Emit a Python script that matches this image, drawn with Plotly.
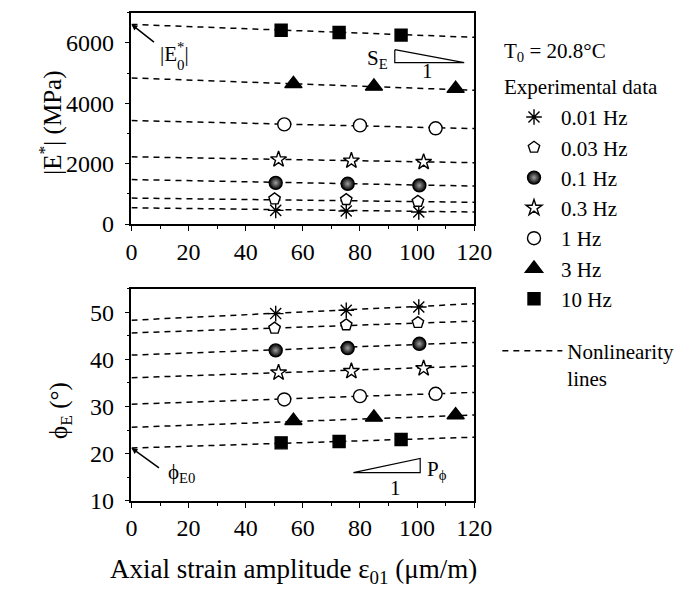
import plotly.graph_objects as go

# ---------------- data ----------------
freqs = ["0.01 Hz", "0.03 Hz", "0.1 Hz", "0.3 Hz", "1 Hz", "3 Hz", "10 Hz"]

strain = [
    [50.5, 75.2, 100.6],
    [50.1, 75.2, 100.3],
    [50.5, 75.7, 100.8],
    [51.5, 77.0, 102.3],
    [53.5, 80.0, 106.5],
    [56.7, 84.9, 113.5],
    [52.4, 72.7, 94.4],
]
modulus = [
    [452, 430, 398],
    [830, 806, 752],
    [1365, 1333, 1280],
    [2140, 2097, 2054],
    [3300, 3268, 3171],
    [4645, 4560, 4484],
    [6420, 6345, 6258],
]
phase = [
    [49.7, 50.4, 51.1],
    [46.6, 47.3, 47.8],
    [41.9, 42.4, 43.3],
    [37.2, 37.5, 38.1],
    [31.5, 32.2, 32.7],
    [27.0, 27.7, 28.2],
    [22.3, 22.6, 23.0],
]
# nonlinearity lines: value at strain 0 and at strain 120
line_x = [0, 120]
mod_start = [538, 860, 1473, 2226, 3430, 4839, 6613]
mod_end = [398, 720, 1258, 2032, 3161, 4430, 6184]
phi_start = [48.3, 45.6, 40.9, 36.1, 30.5, 25.6, 21.2]
phi_end = [51.8, 48.1, 43.6, 38.6, 33.0, 28.2, 23.5]

# slope triangles (data coordinates)
se_tri_x = [92.2, 92.2, 116.5, 92.2]
se_tri_y = [5775, 5345, 5345, 5775]
pphi_tri_x = [77.7, 101.1, 101.1, 77.7]
pphi_tri_y = [16.0, 16.0, 19.0, 16.0]

# ---------------- styles ----------------
FONT = "Liberation Serif, Times New Roman, serif"
symbols = ["asterisk-open", "pentagon", "circle", "star", "circle", "triangle-up", "square"]
fills = ["black", "white", "black", "white", "white", "black", "black"]
sizes = [13, 12, 13, 12, 13, 15, 12]

fig = go.Figure()

dash = "6px,5px"
for i in range(len(freqs)):
    fig.add_trace(go.Scatter(x=line_x, y=[mod_start[i], mod_end[i]], mode="lines",
                             line=dict(color="black", width=1.5, dash=dash),
                             showlegend=False, hoverinfo="skip", xaxis="x", yaxis="y"))
    fig.add_trace(go.Scatter(x=line_x, y=[phi_start[i], phi_end[i]], mode="lines",
                             line=dict(color="black", width=1.5, dash=dash),
                             name="Nonlinearity<br>lines", legend="legend2",
                             showlegend=(i == 0), hoverinfo="skip", xaxis="x2", yaxis="y2"))

for i, f in enumerate(freqs):
    mk = dict(symbol=symbols[i], size=sizes[i], color=fills[i],
              line=dict(color="black", width=1.4))
    if i == 2:
        mk["gradient"] = dict(type="radial", color="#a0a0a0")
    fig.add_trace(go.Scatter(x=strain[i], y=modulus[i], mode="markers", marker=mk,
                             name=f, legend="legend", showlegend=True,
                             xaxis="x", yaxis="y"))
    fig.add_trace(go.Scatter(x=strain[i], y=phase[i], mode="markers", marker=mk,
                             name=f, showlegend=False, xaxis="x2", yaxis="y2"))

# slope triangles
fig.add_trace(go.Scatter(x=se_tri_x, y=se_tri_y, mode="lines",
                         line=dict(color="black", width=1.2), showlegend=False,
                         hoverinfo="skip", xaxis="x", yaxis="y"))
fig.add_trace(go.Scatter(x=pphi_tri_x, y=pphi_tri_y, mode="lines",
                         line=dict(color="black", width=1.2), showlegend=False,
                         hoverinfo="skip", xaxis="x2", yaxis="y2"))

W, H = 692, 599
xdom = [130 / W, 485 / W]
ydom_top = [1 - 229 / H, 1 - 13 / H]
ydom_bot = [1 - 512 / H, 1 - 295 / H]

axis_common = dict(showline=True, linecolor="black", linewidth=1.5, mirror=True,
                   ticks="outside", ticklen=5, tickwidth=1.3, tickcolor="black",
                   showgrid=False, zeroline=False,
                   tickfont=dict(family=FONT, size=24, color="black"))
minor_x = dict(dtick=10, ticks="outside", ticklen=3, tickcolor="black")

fig.update_layout(
    width=W, height=H,
    margin=dict(l=0, r=0, t=0, b=0),
    paper_bgcolor="white", plot_bgcolor="white",
    font=dict(family=FONT, color="black"),
    xaxis=dict(domain=xdom, anchor="y", range=[0, 120], dtick=20, minor=minor_x, **axis_common),
    yaxis=dict(domain=ydom_top, anchor="x", range=[0, 7000], tickvals=[0, 2000, 4000, 6000],
               tickformat="d", ticklabelstandoff=6,
               minor=dict(dtick=1000, ticks="outside", ticklen=3, tickcolor="black"), **axis_common),
    xaxis2=dict(domain=xdom, anchor="y2", range=[0, 120], dtick=20, minor=minor_x, **axis_common),
    yaxis2=dict(domain=ydom_bot, anchor="x2", range=[10, 55], dtick=10, ticklabelstandoff=6,
                minor=dict(dtick=5, ticks="outside", ticklen=3, tickcolor="black"), **axis_common),
    legend=dict(x=519 / W, xanchor="left", y=1 - 99 / H, yanchor="top",
                font=dict(family=FONT, size=21, color="black"),
                itemwidth=44, bgcolor="rgba(0,0,0,0)", tracegroupgap=0),
    legend2=dict(x=509 / W, xanchor="left", y=1 - 338 / H, yanchor="top",
                 font=dict(family=FONT, size=21, color="black"), valign="top",
                 itemwidth=60, bgcolor="rgba(0,0,0,0)"),
    showlegend=True,
)

ann_font = dict(family=FONT, size=21, color="black")
annotations = [
    dict(text="T<sub>0</sub> = 20.8°C", x=514 / W, y=1 - 53 / H, xref="paper", yref="paper",
         xanchor="left", yanchor="middle", showarrow=False, font=ann_font),
    dict(text="Experimental data", x=514 / W, y=1 - 89 / H, xref="paper", yref="paper",
         xanchor="left", yanchor="middle", showarrow=False, font=ann_font),
    dict(text="|E<sup>*</sup>| (MPa)", x=46 / W, y=1 - 125 / H, xref="paper", yref="paper",
         textangle=-90, xanchor="center", yanchor="middle", showarrow=False,
         font=dict(family=FONT, size=25, color="black")),
    dict(text="ϕ<sub>E</sub> (°)", x=57 / W, y=1 - 420 / H, xref="paper", yref="paper",
         textangle=-90, xanchor="center", yanchor="middle", showarrow=False,
         font=dict(family=FONT, size=25, color="black")),
    dict(text="Axial strain amplitude ε<sub>01</sub> (μm/m)", x=298 / W, y=1 - 584 / H,
         xref="paper", yref="paper", xanchor="center", yanchor="middle", showarrow=False,
         font=dict(family=FONT, size=27, color="black")),
    # |E0*| label and arrow
    dict(text="", x=0, y=mod_start[6], xref="x", yref="y", ax=24, ay=19,
         showarrow=True, arrowhead=2, arrowsize=0.8, arrowwidth=1.5, arrowcolor="black"),
    dict(text="|E<sup>*</sup>|", x=157 / W, y=1 - 54 / H, xref="paper", yref="paper",
         xanchor="left", yanchor="middle", showarrow=False, font=ann_font),
    dict(text="0", x=181 / W, y=1 - 66 / H, xref="paper", yref="paper",
         xanchor="center", yanchor="middle", showarrow=False,
         font=dict(family=FONT, size=15, color="black")),
    # phi_E0 label and arrow
    dict(text="", x=0, y=phi_start[6], xref="x2", yref="y2", ax=29, ay=21,
         showarrow=True, arrowhead=2, arrowsize=0.8, arrowwidth=1.5, arrowcolor="black"),
    dict(text="ϕ<sub>E0</sub>", x=166 / W, y=1 - 484 / H, xref="paper", yref="paper",
         xanchor="left", yanchor="middle", showarrow=False, font=ann_font),
    # slope labels
    dict(text="S<sub>E</sub>", x=398 / W, y=1 - 60 / H, xref="paper", yref="paper",
         xanchor="right", yanchor="middle", showarrow=False, font=ann_font),
    dict(text="1", x=437 / W, y=1 - 73 / H, xref="paper", yref="paper",
         xanchor="center", yanchor="middle", showarrow=False, font=ann_font),
    dict(text="P<sub>ϕ</sub>", x=434 / W, y=1 - 480 / H, xref="paper", yref="paper",
         xanchor="left", yanchor="middle", showarrow=False, font=ann_font),
    dict(text="1", x=404 / W, y=1 - 499 / H, xref="paper", yref="paper",
         xanchor="center", yanchor="middle", showarrow=False, font=ann_font),
]
fig.update_layout(annotations=annotations)

fig.write_html("out.html")
